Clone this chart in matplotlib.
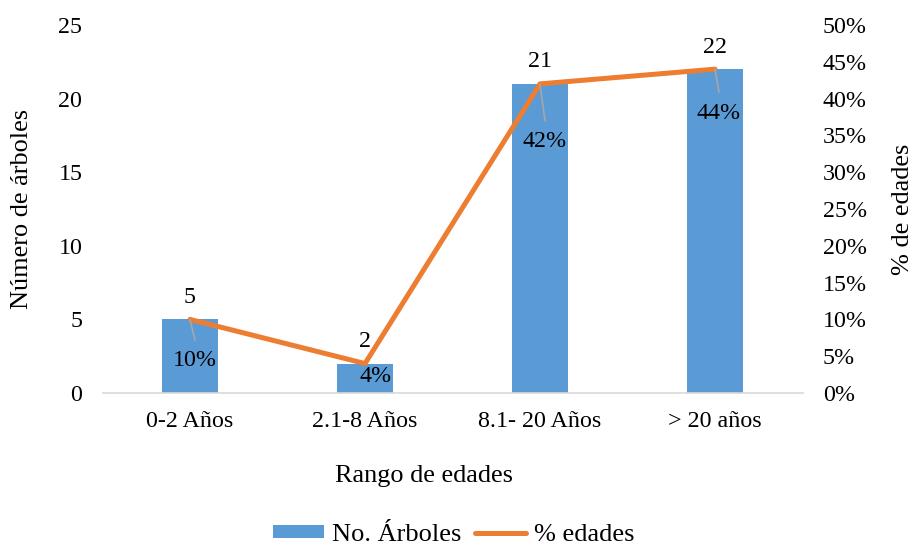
import matplotlib
matplotlib.use("Agg")
import matplotlib.pyplot as plt
from matplotlib.lines import Line2D
from matplotlib.patches import Patch
import numpy as np

plt.rcParams['font.family'] = ['Liberation Serif', 'DejaVu Serif']

categories = ["0-2 Años", "2.1-8 Años", "8.1- 20 Años", "> 20 años"]
arboles = [5, 2, 21, 22]
pct_edades = [10, 4, 42, 44]
left_ticks = [0, 5, 10, 15, 20, 25]
right_ticks = [0, 5, 10, 15, 20, 25, 30, 35, 40, 45, 50]

# label offsets (pixels) for the percentage labels and their leader lines
pct_text_off = [(5, -41), (11, -13), (5, -58), (4, -44)]
leader_end = [(5, -21), None, (5, -37), (4, -23)]

BAR_C = "#5B9BD5"
LINE_C = "#ED7D31"
LEAD_C = "#A6A6A6"
FS_TICK = 17.3
FS_TITLE = 18.9
FS_LEG = 19

fig = plt.figure(figsize=(9.16, 5.48), dpi=100)
ax = fig.add_axes([102.5 / 916, 1 - 393 / 548, 700 / 916, 368 / 548])
ax2 = ax.twinx()

x = np.arange(len(categories))
ax.bar(x, arboles, width=0.315, color=BAR_C, zorder=2)
ax.set_xlim(-0.5, len(categories) - 0.5)
ax.set_ylim(0, 25)
ax.set_yticks(left_ticks)
ax.set_xticks(x)
ax.set_xticklabels(categories)
ax.tick_params(axis='both', length=0, labelsize=FS_TICK)
ax.tick_params(axis='y', pad=14.5)
ax.tick_params(axis='x', pad=13)

for s in ["top", "right", "left"]:
    ax.spines[s].set_visible(False)
ax.spines["bottom"].set_color("#D9D9D9")
ax.spines["bottom"].set_linewidth(1.2)

ax.set_xlabel("Rango de edades", fontsize=FS_TITLE, va="center")
ax.xaxis.set_label_coords(0.4586, -0.226)
ax.set_ylabel("Número de árboles", fontsize=FS_TITLE, va="center")
ax.yaxis.set_label_coords(-0.115, 0.5)

for xi, v in zip(x, arboles):
    ax.annotate(str(v), (xi, v), xytext=(0, 22), textcoords="offset pixels",
                ha="center", va="center", fontsize=FS_TICK)

ax2.plot(x, pct_edades, color=LINE_C, lw=3.6, solid_capstyle="round",
         solid_joinstyle="round", zorder=3)
ax2.set_ylim(0, 50)
ax2.set_yticks(right_ticks)
ax2.set_yticklabels([f"{t}%" for t in right_ticks])
ax2.tick_params(axis='y', length=0, labelsize=FS_TICK, pad=14.5)
for s in ["top", "right", "left", "bottom"]:
    ax2.spines[s].set_visible(False)
ax2.set_ylabel("% de edades", fontsize=FS_TITLE, va="center")
ax2.yaxis.set_label_coords(1.1436, 0.5)

for xi, v, toff, lend in zip(x, pct_edades, pct_text_off, leader_end):
    if lend is not None:
        ax2.annotate("", (xi, v), xytext=lend, textcoords="offset pixels",
                     arrowprops=dict(arrowstyle="-", color=LEAD_C, lw=1.2,
                                     shrinkA=0, shrinkB=0))
    ax2.annotate(f"{v}%", (xi, v), xytext=toff, textcoords="offset pixels",
                 ha="center", va="center", fontsize=FS_TICK)

handles = [Patch(facecolor=BAR_C, edgecolor="none"),
           Line2D([0], [0], color=LINE_C, lw=3.6, solid_capstyle="round")]
fig.legend(handles, ["No. Árboles", "% edades"], loc="center",
           bbox_to_anchor=(454 / 916, 1 - 535 / 548), ncol=2, frameon=False,
           fontsize=FS_LEG, handlelength=1.93, handleheight=0.4,
           columnspacing=0.53, handletextpad=0.3, borderpad=0.1)

fig.savefig("out.png", dpi=100)
